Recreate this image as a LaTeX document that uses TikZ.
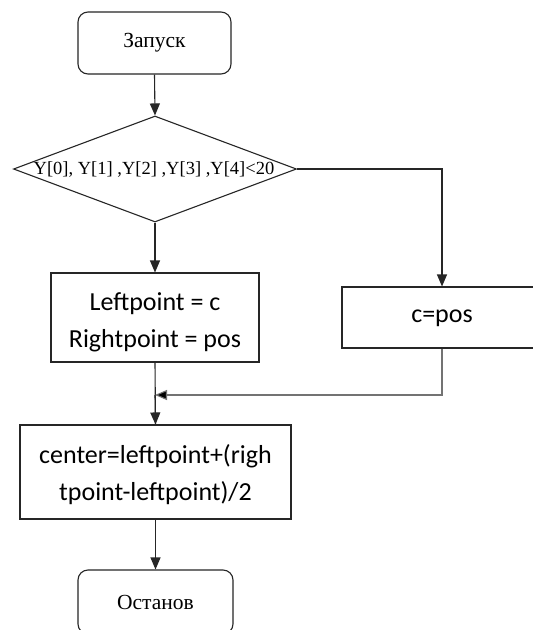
\documentclass[tikz,border=0pt]{standalone}
\usepackage{fontspec}
\setmainfont{Liberation Serif}
\newfontfamily\calfont{Carlito}
\usetikzlibrary{shapes.geometric,arrows.meta}
\tikzset{
  x=1pt,y=-1pt,
  line/.style={draw=black!85, line width=1.1pt},
  arr/.style={line, -{Triangle[length=12pt,width=10pt]}},
  grayarr/.style={draw=black!55, line width=1.1pt, -{Triangle[length=12pt,width=10pt,fill=black]}},
  term/.style={line, rectangle, rounded corners=10pt, inner sep=0pt, font=\fontsize{21.5}{24}\selectfont},
  procbox/.style={line, rectangle, inner sep=0pt},
  proctext/.style={inner sep=0pt, align=center, font=\calfont\fontsize{26}{37}\selectfont},
  decision/.style={line, diamond, inner sep=0pt},
}
\begin{document}
\begin{tikzpicture}
\useasboundingbox (0,0) rectangle (533,630);
\clip (0,0) rectangle (533,630);
\fill[white] (0,0) rectangle (533,630);

\node[term, minimum width=153pt, minimum height=62pt] (start) at (154.5,43) {Запуск};
\node[decision, minimum width=283pt, minimum height=106pt] (dec) at (155,169) {};
\node[font=\fontsize{18.5}{20}\selectfont, inner sep=0pt] (dectext) at (154,169) {Y[0], Y[1] ,Y[2] ,Y[3] ,Y[4]<20};
\node[procbox, minimum width=208pt, minimum height=89pt] (box1) at (155,317.5) {};
\node[proctext] (box1text) at (155,322) {Leftpoint = c\\Rightpoint = pos};
\node[procbox, minimum width=200pt, minimum height=61pt] (box2) at (442,317.5) {};
\node[proctext] (box2text) at (442,318) {c=pos};
\node[procbox, minimum width=271pt, minimum height=94pt] (box3) at (155.5,472) {};
\node[proctext] (box3text) at (155.5,475) {center=leftpoint+(righ\\tpoint-leftpoint)/2};
\node[term, minimum width=155pt, minimum height=64pt] (stop) at (155.5,602) {Останов};
\coordinate (m) at (155,395);

\draw[arr] (start.south) -- (dec.north);
\draw[arr] (dec.south) -- (box1.north);
\draw[arr] (dec.east) -| (box2.north);
\draw[line] (box1.south) -- (box3.north);
\draw[arr] (m) -- (box3.north);
\draw[grayarr] (box2.south) |- (m);
\draw[arr] (box3.south) -- (stop.north);
\end{tikzpicture}
\end{document}
